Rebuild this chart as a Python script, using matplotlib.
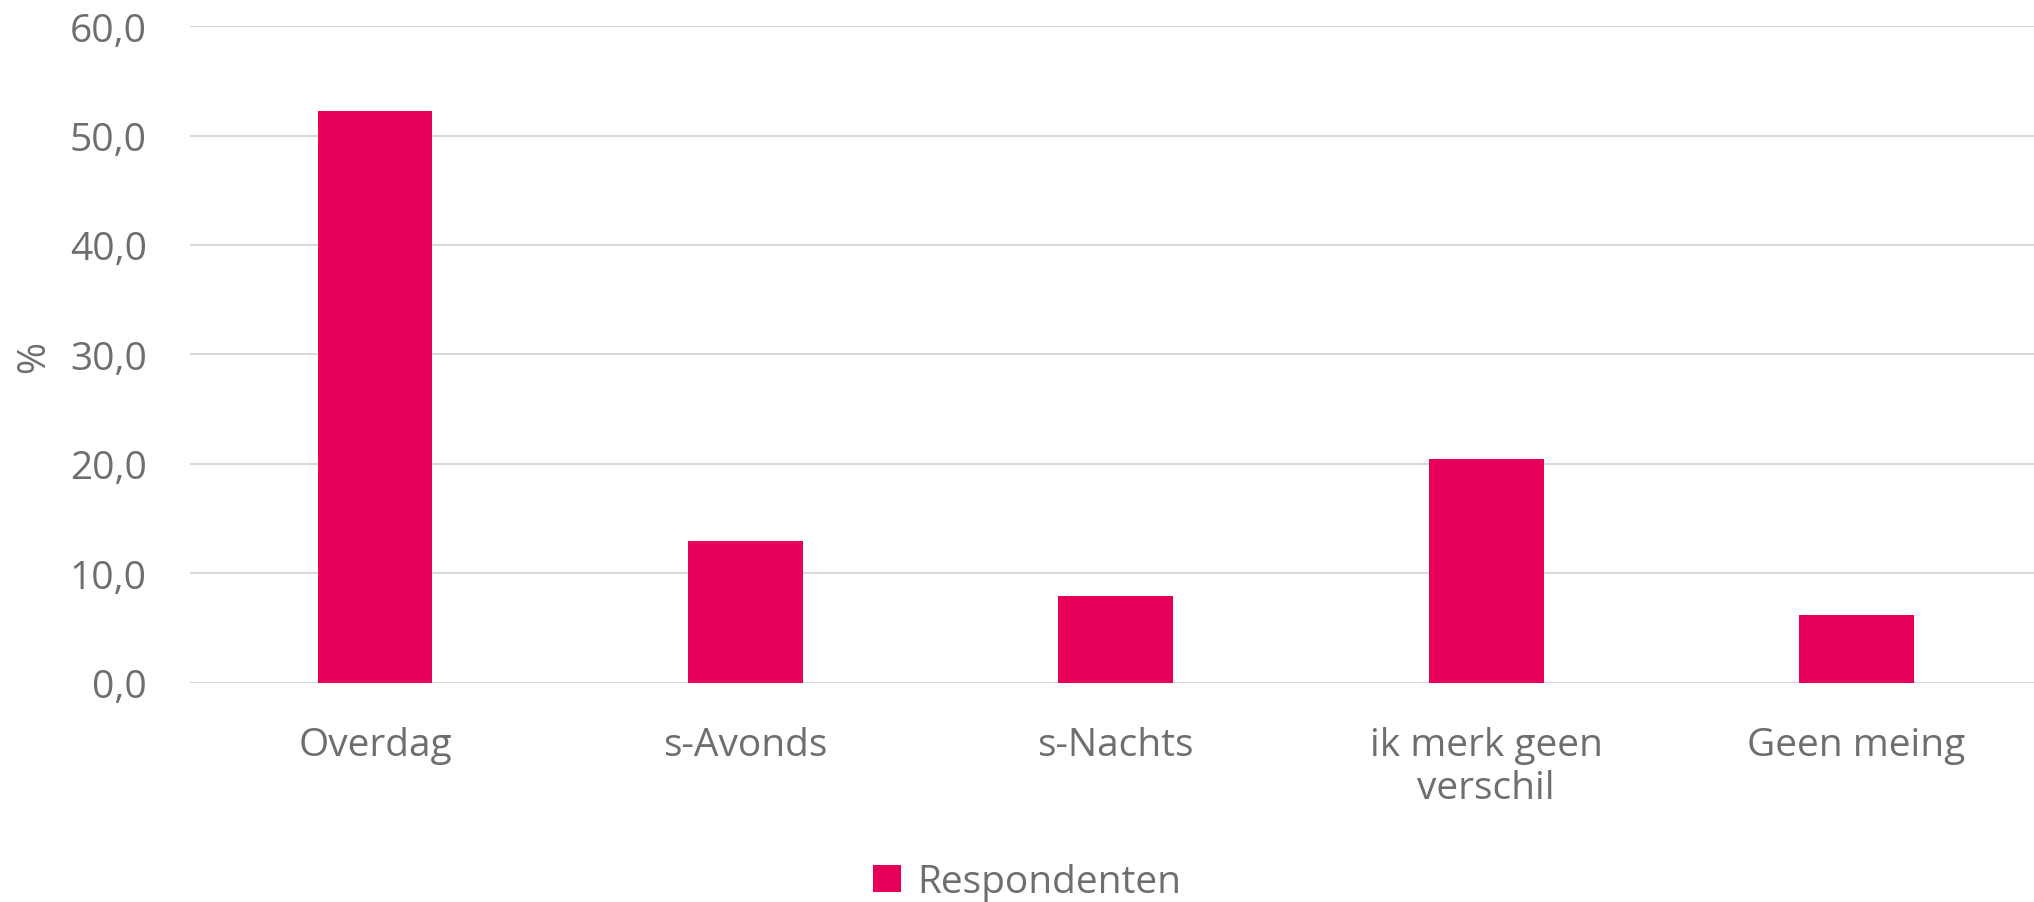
import matplotlib
matplotlib.use('Agg')
import matplotlib.pyplot as plt
from matplotlib.ticker import FuncFormatter

categories = ['Overdag', 's-Avonds', 's-Nachts', 'ik merk geen\nverschil', 'Geen meing']
respondenten = [52.2, 12.9, 7.9, 20.4, 6.2]

kleur_bar = '#E6005A'
kleur_tekst = '#6E6E6E'
kleur_grid = '#D9D9D9'

plt.rcParams['font.family'] = ['Open Sans', 'DejaVu Sans']

fig = plt.figure(figsize=(20.34, 9.03), dpi=100)
# plotgebied loopt net iets voorbij de rechterrand
ax = fig.add_axes([0.0933, 0.243, 0.9105, 0.727])

x = list(range(len(categories)))
ax.bar(x, respondenten, width=0.31, color=kleur_bar, label='Respondenten', zorder=3)

ax.set_xlim(-0.5, len(categories) - 0.5)
ax.set_ylim(0, 60)
ax.set_yticks(range(0, 61, 10))
ax.yaxis.set_major_formatter(FuncFormatter(lambda v, p: f'{v:.1f}'.replace('.', ',')))
ax.set_xticks(x)
ax.set_xticklabels(categories)

ax.grid(axis='y', color=kleur_grid, linewidth=1.5, zorder=0)
for s in ax.spines.values():
    s.set_visible(False)
ax.tick_params(axis='both', length=0, labelsize=28, colors=kleur_tekst)
ax.tick_params(axis='y', pad=31)
ax.tick_params(axis='x', pad=31)

# as-titel los gezet
fig.text(0.0167, 0.605, '%', rotation=90, fontsize=28, color=kleur_tekst,
         ha='center', va='center')

fig.legend(loc='center', bbox_to_anchor=(0.505, 0.022), frameon=False,
           fontsize=28, labelcolor=kleur_tekst, handlelength=0.72, handleheight=0.72,
           handletextpad=0.4)

fig.savefig('out.png', dpi=100)
plt.close()
